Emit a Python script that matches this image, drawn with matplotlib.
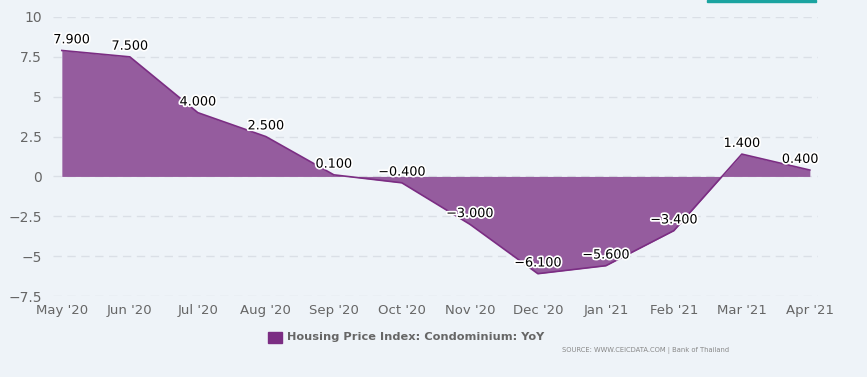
import numpy as np
import matplotlib.pyplot as plt
import matplotlib.patheffects as pe
from matplotlib.patches import Rectangle

months = ["May '20", "Jun '20", "Jul '20", "Aug '20", "Sep '20", "Oct '20",
          "Nov '20", "Dec '20", "Jan '21", "Feb '21", "Mar '21", "Apr '21"]
yoy = [7.9, 7.5, 4.0, 2.5, 0.1, -0.4, -3.0, -6.1, -5.6, -3.4, 1.4, 0.4]
yticks = [10, 7.5, 5, 2.5, 0, -2.5, -5, -7.5]
ytick_labels = ['10', '7.5', '5', '2.5', '0', '−2.5', '−5', '−7.5']

bg = '#eef3f8'
fig = plt.figure(figsize=(8.67, 3.77), dpi=100)
fig.patch.set_facecolor(bg)
ax = fig.add_axes([53/867, 1-296/377, 765/867, 279/377])
ax.set_facecolor(bg)

x = np.arange(len(months))
ax.fill_between(x, yoy, 0, color='#955c9e', linewidth=0)
ax.plot(x, yoy, color='#7b2d83', linewidth=1.2)

for xi, v in zip(x, yoy):
    # labels kept inside plot area at the edges
    dx = 0
    if xi == 0:
        dx = 7
    elif xi == len(x) - 1:
        dx = -7
    txt = ('%.3f' % v).replace('-', '−')
    t = ax.annotate(txt, (xi, v), xytext=(dx, 3), textcoords='offset points',
                    ha='center', va='bottom', fontsize=9.2, color='black')
    t.set_path_effects([pe.withStroke(linewidth=2.5, foreground='white')])

ax.set_xlim(-0.13, 11.12)
ax.set_ylim(-7.5, 10)
ax.set_yticks(yticks)
ax.set_yticklabels(ytick_labels)
ax.set_xticks(x)
ax.set_xticklabels(months)
ax.tick_params(axis='both', length=0, colors='#666666', labelsize=9.5)
ax.tick_params(axis='y', labelsize=10, pad=8)
ax.tick_params(axis='x', pad=6)
ax.grid(axis='y', color='#dadfe6', linestyle=(0, (6, 4)), linewidth=1)
ax.set_axisbelow(True)
for s in ax.spines.values():
    s.set_visible(False)

# legend
fig.patches.append(Rectangle((268/867, 1-343/377), 14/867, 11/377,
                             transform=fig.transFigure, color='#7b2d83'))
fig.text(287/867, 1-337/377, 'Housing Price Index: Condominium: YoY',
         fontsize=8.2, fontweight='bold', color='#666666', va='center')
fig.text(562/867, 1-351/377, 'SOURCE: WWW.CEICDATA.COM | Bank of Thailand',
         fontsize=4.9, color='#888888', va='center', ha='left')
fig.patches.append(Rectangle((707/867, 1-2/377), 109/867, 2/377,
                             transform=fig.transFigure, color='#1aa3a0'))

fig.savefig('out.png', dpi=100, facecolor=bg)
